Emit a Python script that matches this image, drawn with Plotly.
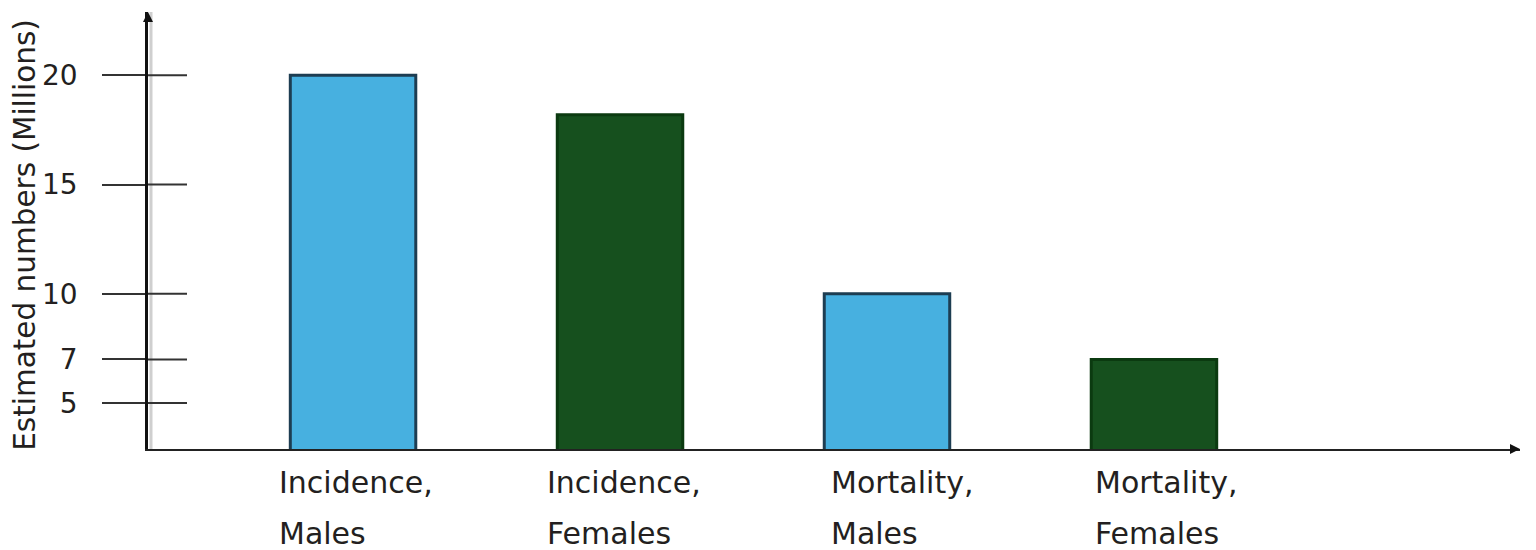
import plotly.graph_objects as go

# ---- data ----
categories = ["Incidence, Males", "Incidence, Females", "Mortality, Males", "Mortality, Females"]
values = [20, 18.2, 10, 7]
bar_colors = ["#47B0E0", "#16501E", "#47B0E0", "#16501E"]
bar_edge = ["#1D3D52", "#0B3A10", "#1D3D52", "#0B3A10"]
y_tick_vals = [5, 7, 10, 15, 20]
y_title = "Estimated numbers (Millions)"

FONT = "DejaVu Sans"
TXT = "#231F20"

# the page body adds an 8px offset, so the figure is 8px smaller each way
W, H = 1528, 542
ML, MR, MT, MB = 140, 16, 4, 101
PW = W - ML - MR

fig = go.Figure()
fig.add_trace(go.Bar(
    x=categories, y=values, width=0.47,
    marker=dict(color=bar_colors, line=dict(color=bar_edge, width=3)),
    showlegend=False, hoverinfo="x+y",
))

fig.update_layout(
    width=W, height=H, autosize=False,
    margin=dict(l=ML, r=MR, t=MT, b=MB),
    paper_bgcolor="white", plot_bgcolor="white",
    font=dict(family=FONT, color=TXT),
    xaxis=dict(type="category", range=[-0.768, 4.371], showticklabels=False,
               showgrid=False, zeroline=False, showline=True, linecolor="#222", linewidth=2,
               ticks=""),
    yaxis=dict(range=[2.9, 22.9], tickvals=y_tick_vals, ticks="outside", ticklen=43,
               tickwidth=2, tickcolor="#333", ticklabelstandoff=19,
               tickfont=dict(size=28, family=FONT, color=TXT),
               showgrid=False, zeroline=False, showline=True, linecolor="#111", linewidth=2.5),
    bargap=0.5,
)

# inner half of the crossing tick marks
for v in y_tick_vals:
    fig.add_shape(type="line", xref="paper", yref="y", xsizemode="pixel", xanchor=0,
                  x0=0, x1=39, y0=v, y1=v, line=dict(color="#333", width=2), layer="above")

# subtle shadow of the y axis line
fig.add_shape(type="line", xref="paper", yref="paper", xsizemode="pixel", xanchor=0,
              x0=3, x1=3, y0=0, y1=1, line=dict(color="#cfcfcf", width=3), layer="below")

# axis arrowheads
fig.add_annotation(xref="paper", yref="paper", x=0, y=1, ax=0, ay=8, text="",
                   showarrow=True, arrowhead=2, arrowsize=1, arrowwidth=2, arrowcolor="#111")
fig.add_annotation(xref="paper", yref="paper", x=1, y=0, ax=-8, ay=0, text="",
                   showarrow=True, arrowhead=2, arrowsize=1, arrowwidth=2, arrowcolor="#111")

# category labels: two left-aligned lines under each bar
label_xshift = [-76, -75, -58, -61]
for c, dx in zip(categories, label_xshift):
    l1, l2 = c.split(" ", 1)
    for txt, dy in ((l1, -14), (l2, -65)):
        fig.add_annotation(xref="x", yref="paper", x=c, y=0, yanchor="top", xanchor="left",
                           align="left", showarrow=False, xshift=dx, yshift=dy, text=txt,
                           font=dict(size=30, family=FONT, color=TXT))

# y axis title
fig.add_annotation(xref="paper", yref="paper", x=-123 / PW, y=0.49, xanchor="center",
                   yanchor="middle", textangle=-90, showarrow=False, text=y_title,
                   borderpad=0, font=dict(size=29.5, family=FONT, color=TXT))

fig.write_html("out.html")
